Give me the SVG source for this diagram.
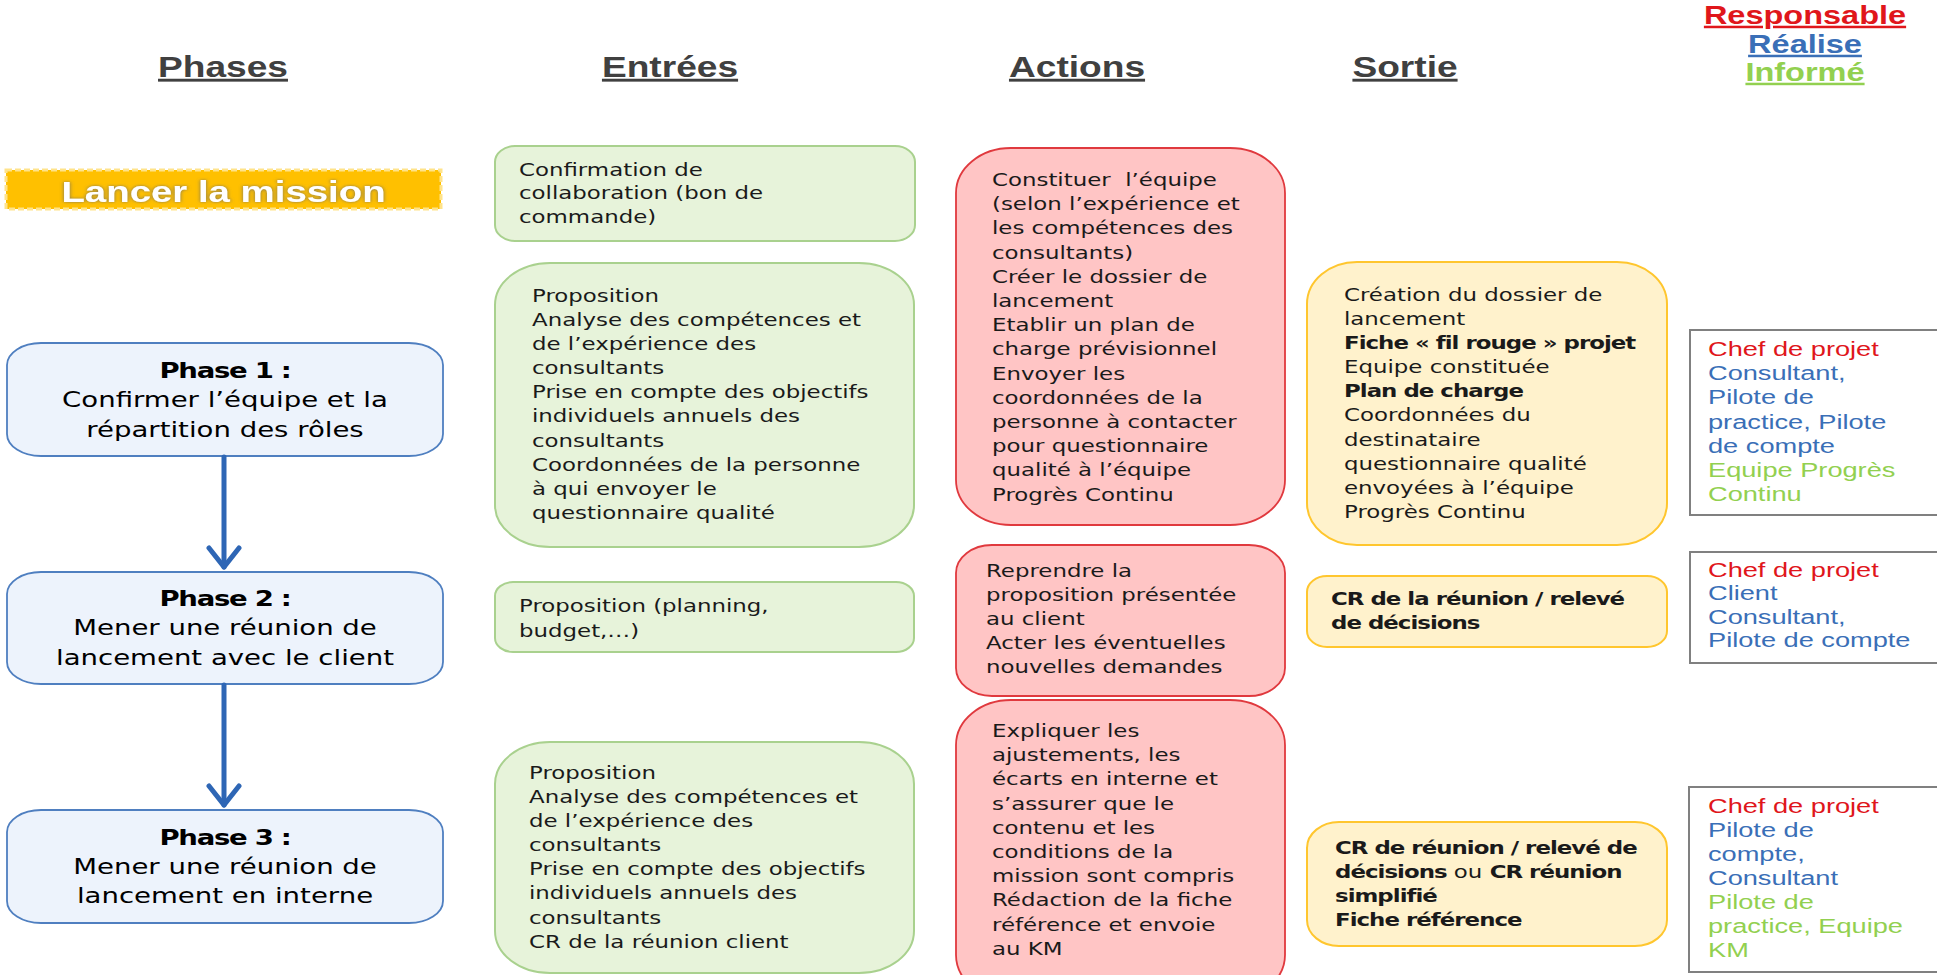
<svg xmlns="http://www.w3.org/2000/svg" width="1937" height="975" viewBox="0 0 1937 975">
<style>
.hdr{font-family:"Liberation Sans",Arial,sans-serif;font-weight:bold;font-size:29px;fill:#404040;text-decoration:underline;text-anchor:middle}
.leg{font-family:"Liberation Sans",Arial,sans-serif;font-weight:bold;font-size:25px;text-decoration:underline;text-anchor:middle}
.body{font-family:"DejaVu Sans",Verdana,sans-serif;font-size:17.6px;fill:#1a1a1a}
.bd{font-weight:bold;letter-spacing:-0.75px}
.nb{font-weight:normal;letter-spacing:0}
.ph{font-family:"DejaVu Sans",Verdana,sans-serif;font-size:21.2px;fill:#000;text-anchor:middle}
.phb{font-weight:bold;letter-spacing:-1px}
.resp{font-family:"Liberation Sans",Arial,sans-serif;font-size:20px}
.red{fill:#E0161B}
.blue{fill:#3A6FB7}
.green{fill:#92D050}
.phase{fill:#EDF3FC;stroke:#4F7FC0;stroke-width:1.8}
.ent{fill:#E7F3DA;stroke:#A9D18E;stroke-width:2}
.act{fill:#FFC5C5;stroke:#E0393E;stroke-width:1.8}
.out{fill:#FFF2CC;stroke:#FFC62E;stroke-width:2}
.rbox{fill:#FFFFFF;stroke:#808080;stroke-width:2}
.conn{fill:none;stroke:#2E66B5;stroke-width:5;stroke-linecap:round}
</style>
<defs>
<marker id="chev" markerUnits="userSpaceOnUse" viewBox="0 0 30 36" markerWidth="30" markerHeight="36" refX="26" refY="18" orient="auto">
<path d="M7,3 L26,18 L7,33" fill="none" stroke="#2E66B5" stroke-width="5" stroke-linecap="round" stroke-linejoin="round"/>
</marker>
<filter id="glow" x="-10%" y="-30%" width="120%" height="160%">
<feDropShadow dx="0" dy="0" stdDeviation="1.6" flood-color="#6b6b6b" flood-opacity="0.9"/>
</filter>
</defs>
<rect width="1937" height="975" fill="#FFFFFF"/>

<g id="headers">
<text class="hdr" transform="translate(223,77) scale(1.28,1)">Phases</text>
<text class="hdr" transform="translate(670,77) scale(1.28,1)">Entrées</text>
<text class="hdr" transform="translate(1077,77) scale(1.28,1)">Actions</text>
<text class="hdr" transform="translate(1405,77) scale(1.28,1)">Sortie</text>
<text class="leg red" transform="translate(1805,24) scale(1.3,1)">Responsable</text>
<text class="leg blue" transform="translate(1805,53) scale(1.3,1)">Réalise</text>
<text class="leg green" transform="translate(1805,81) scale(1.3,1)">Informé</text>
</g>

<g id="node-lancer">
<rect x="6" y="170" width="435" height="39" fill="#FFC000" stroke="#FFE38A" stroke-width="3" stroke-dasharray="6 3"/>
<text transform="translate(223.5,201.5) scale(1.28,1)" font-family="Liberation Sans, Arial, sans-serif" font-weight="bold" font-size="30" fill="#FFFFFF" text-anchor="middle" filter="url(#glow)">Lancer la mission</text>
</g>

<g id="node-phase1">
<rect class="phase" x="7" y="343" width="436" height="113" rx="34" ry="22"/>
<text class="ph" transform="translate(225,378) scale(1.3,1)"><tspan class="phb" x="0">Phase 1 :</tspan><tspan x="0" dy="29.5">Confirmer l’équipe et la</tspan><tspan x="0" dy="29.5">répartition des rôles</tspan></text>
</g>
<g id="node-phase2">
<rect class="phase" x="7" y="572" width="436" height="112" rx="34" ry="22"/>
<text class="ph" transform="translate(225,606) scale(1.3,1)"><tspan class="phb" x="0">Phase 2 :</tspan><tspan x="0" dy="29.5">Mener une réunion de</tspan><tspan x="0" dy="29.5">lancement avec le client</tspan></text>
</g>
<g id="node-phase3">
<rect class="phase" x="7" y="810" width="436" height="113" rx="34" ry="22"/>
<text class="ph" transform="translate(225,845) scale(1.3,1)"><tspan class="phb" x="0">Phase 3 :</tspan><tspan x="0" dy="29">Mener une réunion de</tspan><tspan x="0" dy="29">lancement en interne</tspan></text>
</g>

<g id="node-entree1">
<rect class="ent" x="495" y="146" width="420" height="95" rx="20" ry="16"/>
<text class="body" transform="translate(519,176) scale(1.3,1)"><tspan x="0">Confirmation de</tspan><tspan x="0" dy="23.5">collaboration (bon de</tspan><tspan x="0" dy="23.5">commande)</tspan></text>
</g>
<g id="node-entree2">
<rect class="ent" x="495" y="263" width="419" height="284" rx="55" ry="42"/>
<text class="body" transform="translate(532,302) scale(1.3,1)"><tspan x="0">Proposition</tspan><tspan x="0" dy="24.1">Analyse des compétences et</tspan><tspan x="0" dy="24.1">de l’expérience des</tspan><tspan x="0" dy="24.1">consultants</tspan><tspan x="0" dy="24.1">Prise en compte des objectifs</tspan><tspan x="0" dy="24.1">individuels annuels des</tspan><tspan x="0" dy="24.1">consultants</tspan><tspan x="0" dy="24.1">Coordonnées de la personne</tspan><tspan x="0" dy="24.1">à qui envoyer le</tspan><tspan x="0" dy="24.1">questionnaire qualité</tspan></text>
</g>
<g id="node-entree3">
<rect class="ent" x="495" y="582" width="419" height="70" rx="18" ry="14"/>
<text class="body" transform="translate(519,612) scale(1.3,1)"><tspan x="0">Proposition (planning,</tspan><tspan x="0" dy="25">budget,…)</tspan></text>
</g>
<g id="node-entree4">
<rect class="ent" x="495" y="742" width="419" height="231" rx="55" ry="42"/>
<text class="body" transform="translate(529,779) scale(1.3,1)"><tspan x="0">Proposition</tspan><tspan x="0" dy="24.1">Analyse des compétences et</tspan><tspan x="0" dy="24.1">de l’expérience des</tspan><tspan x="0" dy="24.1">consultants</tspan><tspan x="0" dy="24.1">Prise en compte des objectifs</tspan><tspan x="0" dy="24.1">individuels annuels des</tspan><tspan x="0" dy="24.1">consultants</tspan><tspan x="0" dy="24.1">CR de la réunion client</tspan></text>
</g>

<g id="node-action1">
<rect class="act" x="956" y="148" width="329" height="377" rx="55" ry="45"/>
<text class="body" transform="translate(992,186) scale(1.3,1)" xml:space="preserve"><tspan x="0">Constituer  l’équipe</tspan><tspan x="0" dy="24.2">(selon l’expérience et</tspan><tspan x="0" dy="24.2">les compétences des</tspan><tspan x="0" dy="24.2">consultants)</tspan><tspan x="0" dy="24.2">Créer le dossier de</tspan><tspan x="0" dy="24.2">lancement</tspan><tspan x="0" dy="24.2">Etablir un plan de</tspan><tspan x="0" dy="24.2">charge prévisionnel</tspan><tspan x="0" dy="24.2">Envoyer les</tspan><tspan x="0" dy="24.2">coordonnées de la</tspan><tspan x="0" dy="24.2">personne à contacter</tspan><tspan x="0" dy="24.2">pour questionnaire</tspan><tspan x="0" dy="24.2">qualité à l’équipe</tspan><tspan x="0" dy="24.2">Progrès Continu</tspan></text>
</g>
<g id="node-action2">
<rect class="act" x="956" y="545" width="329" height="151" rx="36" ry="28"/>
<text class="body" transform="translate(986,577) scale(1.3,1)"><tspan x="0">Reprendre la</tspan><tspan x="0" dy="24">proposition présentée</tspan><tspan x="0" dy="24">au client</tspan><tspan x="0" dy="24">Acter les éventuelles</tspan><tspan x="0" dy="24">nouvelles demandes</tspan></text>
</g>
<g id="node-action3">
<rect class="act" x="956" y="700" width="329" height="300" rx="55" ry="45"/>
<text class="body" transform="translate(992,737) scale(1.3,1)"><tspan x="0">Expliquer les</tspan><tspan x="0" dy="24.2">ajustements, les</tspan><tspan x="0" dy="24.2">écarts en interne et</tspan><tspan x="0" dy="24.2">s’assurer que le</tspan><tspan x="0" dy="24.2">contenu et les</tspan><tspan x="0" dy="24.2">conditions de la</tspan><tspan x="0" dy="24.2">mission sont compris</tspan><tspan x="0" dy="24.2">Rédaction de la fiche</tspan><tspan x="0" dy="24.2">référence et envoie</tspan><tspan x="0" dy="24.2">au KM</tspan></text>
</g>

<g id="node-sortie1">
<rect class="out" x="1307" y="262" width="360" height="283" rx="50" ry="42"/>
<text class="body" transform="translate(1344,301) scale(1.3,1)"><tspan x="0">Création du dossier de</tspan><tspan x="0" dy="24.1">lancement</tspan><tspan class="bd" x="0" dy="24.1">Fiche « fil rouge » projet</tspan><tspan x="0" dy="24.1">Equipe constituée</tspan><tspan class="bd" x="0" dy="24.1">Plan de charge</tspan><tspan x="0" dy="24.1">Coordonnées du</tspan><tspan x="0" dy="24.1">destinataire</tspan><tspan x="0" dy="24.1">questionnaire qualité</tspan><tspan x="0" dy="24.1">envoyées à l’équipe</tspan><tspan x="0" dy="24.1">Progrès Continu</tspan></text>
</g>
<g id="node-sortie2">
<rect class="out" x="1307" y="576" width="360" height="71" rx="20" ry="16"/>
<text class="body bd" transform="translate(1331,605) scale(1.3,1)"><tspan x="0">CR de la réunion / relevé</tspan><tspan x="0" dy="24">de décisions</tspan></text>
</g>
<g id="node-sortie3">
<rect class="out" x="1307" y="822" width="360" height="124" rx="32" ry="26"/>
<text class="body bd" transform="translate(1335,854) scale(1.3,1)"><tspan x="0">CR de réunion / relevé de</tspan><tspan x="0" dy="24">décisions</tspan><tspan class="nb"> ou </tspan><tspan>CR réunion</tspan><tspan x="0" dy="24">simplifié</tspan><tspan x="0" dy="24">Fiche référence</tspan></text>
</g>

<g id="node-resp1">
<rect class="rbox" x="1690" y="330" width="300" height="185"/>
<text class="resp" transform="translate(1708,356) scale(1.36,1)"><tspan class="red" x="0">Chef de projet</tspan><tspan class="blue" x="0" dy="24.2">Consultant,</tspan><tspan class="blue" x="0" dy="24.2">Pilote de</tspan><tspan class="blue" x="0" dy="24.2">practice, Pilote</tspan><tspan class="blue" x="0" dy="24.2">de compte</tspan><tspan class="green" x="0" dy="24.2">Equipe Progrès</tspan><tspan class="green" x="0" dy="24.2">Continu</tspan></text>
</g>
<g id="node-resp2">
<rect class="rbox" x="1690" y="552" width="300" height="111"/>
<text class="resp" transform="translate(1708,577) scale(1.36,1)"><tspan class="red" x="0">Chef de projet</tspan><tspan class="blue" x="0" dy="23.5">Client</tspan><tspan class="blue" x="0" dy="23.5">Consultant,</tspan><tspan class="blue" x="0" dy="23.5">Pilote de compte</tspan></text>
</g>
<g id="node-resp3">
<rect class="rbox" x="1689" y="787" width="300" height="185"/>
<text class="resp" transform="translate(1708,813) scale(1.36,1)"><tspan class="red" x="0">Chef de projet</tspan><tspan class="blue" x="0" dy="24">Pilote de</tspan><tspan class="blue" x="0" dy="24">compte,</tspan><tspan class="blue" x="0" dy="24">Consultant</tspan><tspan class="green" x="0" dy="24">Pilote de</tspan><tspan class="green" x="0" dy="24">practice, Equipe</tspan><tspan class="green" x="0" dy="24">KM</tspan></text>
</g>

<g id="connectors">
<path class="conn" d="M224,457 L224,567" marker-end="url(#chev)"/>
<path class="conn" d="M224,685 L224,805" marker-end="url(#chev)"/>
</g>
</svg>
